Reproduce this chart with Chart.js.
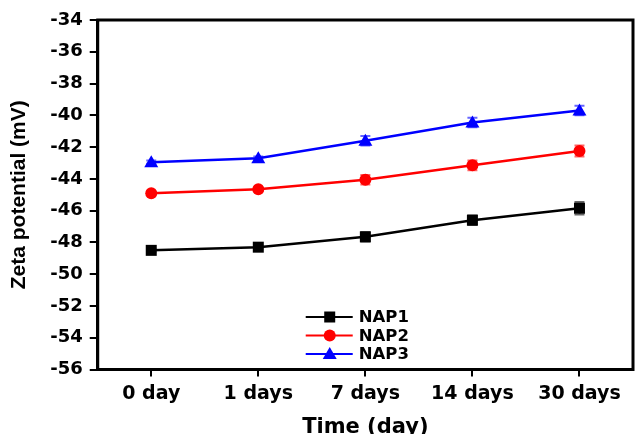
<!DOCTYPE html>
<html>
<head>
<meta charset="utf-8">
<script src="https://cdn.jsdelivr.net/npm/chart.js@4/dist/chart.umd.min.js"></script>
<style>
  html, body { margin: 0; padding: 0; background: #fff; }
  #wrap { width: 635px; height: 434px; }
</style>
</head>
<body>
<div id="wrap"><canvas id="chart"></canvas></div>
<script>
const days = ['0 day', '1 days', '7 days', '14 days', '30 days'];
const nap1 = [-48.5, -48.3, -47.65, -46.6, -45.85];
const nap2 = [-44.9, -44.65, -44.05, -43.15, -42.25];
const nap3 = [-42.95, -42.7, -41.6, -40.45, -39.7];
const nap1Err = [0.1, 0.1, 0.3, 0.3, 0.4];
const nap2Err = [0.1, 0.1, 0.3, 0.3, 0.35];
const nap3Err = [0.1, 0.1, 0.3, 0.3, 0.3];
const yTicks = [-34, -36, -38, -40, -42, -44, -46, -48, -50, -52, -54, -56];

const WIDE = "'DejaVu Sans', sans-serif";
const ARIAL = "'Liberation Sans', Arial, sans-serif";

function drawMarker(ctx, style, x, y, color) {
    ctx.save();
    ctx.fillStyle = color;
    ctx.beginPath();
    if (style === 'rect') {
        ctx.rect(x - 5.5, y - 5.5, 11, 11);
    } else if (style === 'circle') {
        ctx.arc(x, y, 6, 0, Math.PI * 2);
    } else {
        ctx.moveTo(x, y - 7);
        ctx.lineTo(x + 7, y + 5);
        ctx.lineTo(x - 7, y + 5);
        ctx.closePath();
    }
    ctx.fill();
    ctx.restore();
}

// error bars, frame and inside legend
const extras = {
    id: 'extras',
    afterDatasetsDraw(chart) {
        const ctx = chart.ctx;
        const yScale = chart.scales.y;
        chart.data.datasets.forEach((ds, i) => {
            const meta = chart.getDatasetMeta(i);
            ctx.save();
            ctx.strokeStyle = ds.borderColor;
            ctx.globalAlpha = 0.6;
            ctx.lineWidth = 2;
            meta.data.forEach((pt, j) => {
                const top = yScale.getPixelForValue(ds.data[j] + ds.errors[j]);
                const bot = yScale.getPixelForValue(ds.data[j] - ds.errors[j]);
                ctx.beginPath();
                ctx.moveTo(pt.x, top);
                ctx.lineTo(pt.x, bot);
                ctx.moveTo(pt.x - 5, top);
                ctx.lineTo(pt.x + 5, top);
                ctx.moveTo(pt.x - 5, bot);
                ctx.lineTo(pt.x + 5, bot);
                ctx.stroke();
            });
            ctx.restore();
            meta.data.forEach(pt => drawMarker(ctx, ds.marker, pt.x, pt.y, ds.borderColor));
        });

        const a = chart.chartArea;
        ctx.save();
        ctx.strokeStyle = '#000';
        ctx.lineWidth = 3;
        ctx.strokeRect(a.left, a.top, a.right - a.left, a.bottom - a.top);
        ctx.restore();

        // legend
        const lx = a.left + 208;
        let ly = a.top + 297;
        ctx.save();
        ctx.font = 'bold 16.5px ' + WIDE;
        ctx.textBaseline = 'middle';
        chart.data.datasets.forEach(ds => {
            ctx.strokeStyle = ds.borderColor;
            ctx.lineWidth = 2;
            ctx.beginPath();
            ctx.moveTo(lx, ly);
            ctx.lineTo(lx + 47, ly);
            ctx.stroke();
            drawMarker(ctx, ds.marker, lx + 24, ly, ds.borderColor);
            ctx.fillStyle = '#000';
            ctx.fillText(ds.label, lx + 53, ly + 1);
            ly += 18.5;
        });
        ctx.restore();
    }
};

function makeSet(label, data, errors, color, marker) {
    return {
        label: label,
        data: data,
        errors: errors,
        marker: marker,
        borderColor: color,
        backgroundColor: color,
        borderWidth: 2.5,
        pointRadius: 0,
        tension: 0
    };
}

new Chart(document.getElementById('chart'), {
    type: 'line',
    data: {
        labels: days,
        datasets: [
            makeSet('NAP1', nap1, nap1Err, '#000000', 'rect'),
            makeSet('NAP2', nap2, nap2Err, '#ff0000', 'circle'),
            makeSet('NAP3', nap3, nap3Err, '#0000ff', 'triangle')
        ]
    },
    options: {
        responsive: true,
        maintainAspectRatio: false,
        animation: false,
        layout: { padding: { top: 20, right: 2, left: 7, bottom: -6.5 } },
        plugins: {
            legend: { display: false },
            tooltip: { enabled: false }
        },
        scales: {
            x: {
                offset: true,
                border: { display: true, color: '#000', width: 3 },
                grid: { drawOnChartArea: false, color: '#000', tickLength: 7, lineWidth: 2, offset: false },
                ticks: { color: '#000', font: { family: WIDE, size: 19, weight: 'bold' }, padding: 6, maxRotation: 0 },
                title: { display: true, text: 'Time (day)', color: '#000', font: { family: WIDE, size: 21, weight: 'bold' }, padding: { top: 4, bottom: 0 } }
            },
            y: {
                min: -56,
                max: -34,
                border: { display: true, color: '#000', width: 3 },
                grid: { drawOnChartArea: false, color: '#000', tickLength: 8, lineWidth: 2 },
                afterBuildTicks(axis) {
                    axis.ticks = yTicks.map(v => ({ value: v }));
                },
                ticks: { color: '#000', font: { family: WIDE, size: 18, weight: 'bold' }, padding: 7 },
                title: { display: true, text: 'Zeta potential (mV)', color: '#000', font: { family: ARIAL, size: 21, weight: 'bold' }, padding: { top: 0, bottom: 11 } }
            }
        }
    },
    plugins: [extras]
});
</script>
</body>
</html>
